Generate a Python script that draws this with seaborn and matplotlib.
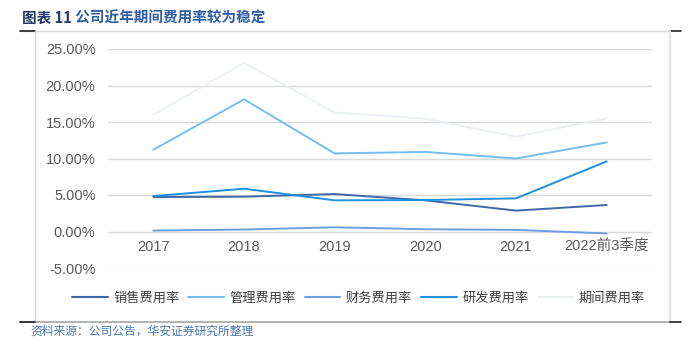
import matplotlib
matplotlib.use("Agg")
import matplotlib.pyplot as plt
import seaborn as sns
import pandas as pd
from matplotlib.lines import Line2D
from matplotlib.ticker import FuncFormatter

years = ["2017", "2018", "2019", "2020", "2021", "2022前3季度"]
series_names = ["销售费用率", "管理费用率", "财务费用率", "研发费用率", "期间费用率"]
sales = [4.72, 4.77, 5.13, 4.27, 2.86, 3.63]
admin = [11.2, 18.1, 10.7, 10.9, 10.0, 12.2]
finance = [0.13, 0.27, 0.58, 0.31, 0.22, -0.27]
rnd = [4.85, 5.86, 4.27, 4.31, 4.54, 9.6]
period = [16.0, 23.1, 16.3, 15.45, 13.0, 15.5]
yticks = [-5, 0, 5, 10, 15, 20, 25]

colors = ["#3f68a6", "#74bdee", "#6c9ee0", "#1f8fe0", "#eaeff3"]

sns.set_theme(style="white")
plt.rcParams['font.family'] = ['Liberation Sans', 'Noto Sans CJK SC', 'DejaVu Sans']
cjk = ['Noto Sans CJK SC', 'DejaVu Sans']

rows = []
for name, vals in zip(series_names, [sales, admin, finance, rnd, period]):
    for i, (yr, v) in enumerate(zip(years, vals)):
        rows.append({"x": i, "year": yr, "series": name, "value": v})
df = pd.DataFrame(rows)

fig = plt.figure(figsize=(6.96, 3.38), dpi=100)
ax = fig.add_axes([108/696, 1-268/338, (652-108)/696, (268-49)/338])

sns.lineplot(data=df, x="x", y="value", hue="series", hue_order=series_names,
             palette=colors, linewidth=1.4, ax=ax, legend=False, sort=False)

ax.set_xlim(-0.5, len(years) - 0.5)
ax.set_ylim(-5, 25)
ax.set_yticks(yticks)
ax.yaxis.set_major_formatter(FuncFormatter(lambda v, p: f"{v:.2f}%"))
ax.set_xticks(range(len(years)))
ax.set_xticklabels(years)
ax.grid(axis="y", color="#d9d9d9", linewidth=1)
ax.set_axisbelow(True)
for s in ["top", "right", "left"]:
    ax.spines[s].set_visible(False)
ax.spines["bottom"].set_position(("data", 0))
ax.spines["bottom"].set_visible(False)
ax.tick_params(axis="both", length=0, labelsize=10.5, colors="#595959")
ax.tick_params(axis="y", pad=9)
ax.tick_params(axis="x", pad=6)
ax.set_xlabel("")
ax.set_ylabel("")

# legend
handles = [Line2D([0], [0], color=c, lw=1.5) for c in colors]
fig.legend(handles, series_names, loc="center", bbox_to_anchor=(0.515, 1 - 298/338),
           ncol=5, frameon=False, handlelength=2.7,
           columnspacing=0.7, handletextpad=0.4, labelcolor="#404040",
           prop={"family": cjk, "size": 9.5})

# frame lines
W, H = 696, 338
def fl(x0, x1, y0, y1, c, lw=1):
    fig.add_artist(Line2D([x0/W, x1/W], [1-y0/H, 1-y1/H], color=c, lw=lw, transform=fig.transFigure))
fl(20, 670, 31, 31, "#d9d9d9")
fl(20, 35, 31, 31, "#222222", 1.2)
fl(670, 681, 31, 31, "#222222", 1.2)
fl(35, 35, 31, 322, "#d9d9d9")
fl(670, 670, 31, 322, "#e3e3e3", 1.5)
fl(20, 670, 322, 322, "#a6a6a6", 1.2)
fl(20, 35, 322, 322, "#222222", 1.2)
fl(670, 681, 322, 322, "#222222", 1.2)

# title
t1 = fig.text(22/W, 1-18/H, "图表 11", fontsize=10.5, fontweight="bold", color="#1f3a6b",
              va="center", ha="left", family=cjk)
ax.annotate(" 公司近年期间费用率较为稳定", xy=(1, 0.5), xycoords=t1, va="center", ha="left",
            fontsize=10.5, fontweight="bold", color="#2f5ea6", annotation_clip=False, family=cjk)

fig.text(30/W, 1-331/H, "资料来源：公司公告，华安证券研究所整理", fontsize=8.5, color="#4a78b5",
         va="center", ha="left", family=cjk)

fig.savefig("out.png", dpi=100)
